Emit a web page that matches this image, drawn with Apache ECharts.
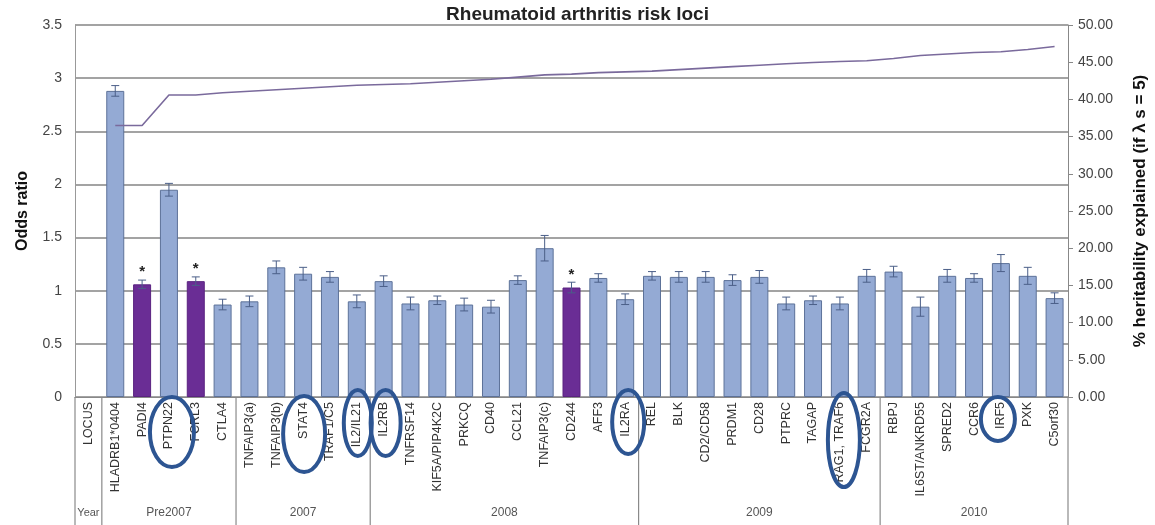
<!DOCTYPE html>
<html>
<head>
<meta charset="utf-8">
<script src="https://cdn.jsdelivr.net/npm/echarts@6/dist/echarts.min.js"></script>
<style>
  html, body { margin: 0; padding: 0; background: #fff; }
  #chart { width: 1155px; height: 525px; }
</style>
</head>
<body>
<div id="chart"></div>
<script>
// Risk loci in order of discovery
const loci = ['LOCUS', 'HLADRB1*0404', 'PADI4', 'PTPN22', 'FCRL3', 'CTLA4',
  'TNFAIP3(a)', 'TNFAIP3(b)', 'STAT4', 'TRAF1/C5', 'IL2/IL21',
  'IL2RB', 'TNFRSF14', 'KIF5A/PIP4K2C', 'PRKCQ', 'CD40', 'CCL21', 'TNFAIP3(c)', 'CD244', 'AFF3', 'IL2RA',
  'REL', 'BLK', 'CD2/CD58', 'PRDM1', 'CD28', 'PTPRC', 'TAGAP', 'RAG1, TRAF6', 'FCGR2A',
  'RBPJ', 'IL6ST/ANKRD55', 'SPRED2', 'CCR6', 'IRF5', 'PXK', 'C5orf30'];

// Year each locus was reported (first column is the row header)
const locusYear = ['Year',
  'Pre2007', 'Pre2007', 'Pre2007', 'Pre2007', 'Pre2007',
  '2007', '2007', '2007', '2007', '2007',
  '2008', '2008', '2008', '2008', '2008', '2008', '2008', '2008', '2008', '2008',
  '2009', '2009', '2009', '2009', '2009', '2009', '2009', '2009', '2009',
  '2010', '2010', '2010', '2010', '2010', '2010', '2010'];

// Odds ratio per locus and half-width of its error bar
const oddsRatio = [null, 2.88, 1.06, 1.95, 1.09, 0.87, 0.90, 1.22, 1.16, 1.13, 0.90,
  1.09, 0.88, 0.91, 0.87, 0.85, 1.10, 1.40, 1.03, 1.12, 0.92,
  1.14, 1.13, 1.13, 1.10, 1.13, 0.88, 0.91, 0.88, 1.14,
  1.18, 0.85, 1.14, 1.12, 1.26, 1.14, 0.93];
const oddsErr = [null, 0.05, 0.04, 0.06, 0.04, 0.05, 0.05, 0.06, 0.06, 0.05, 0.06,
  0.05, 0.06, 0.04, 0.06, 0.06, 0.04, 0.12, 0.05, 0.04, 0.05,
  0.04, 0.05, 0.05, 0.05, 0.06, 0.06, 0.04, 0.06, 0.06,
  0.05, 0.09, 0.06, 0.04, 0.08, 0.08, 0.05];

// Cumulative % heritability explained
const heritability = [null, 36.5, 36.5, 40.6, 40.6, 40.9, 41.1, 41.3, 41.5, 41.7, 41.9,
  42.0, 42.1, 42.3, 42.5, 42.7, 43.0, 43.3, 43.4, 43.6, 43.7,
  43.8, 44.0, 44.2, 44.4, 44.6, 44.8, 44.95, 45.1, 45.2,
  45.5, 45.9, 46.1, 46.3, 46.4, 46.7, 47.1];

// Loci flagged with an asterisk
const starredLoci = ['PADI4', 'FCRL3', 'CD244'];
// Loci highlighted with an oval around their label
const circledLoci = ['PTPN22', 'STAT4', 'IL2/IL21', 'IL2RB', 'IL2RA', 'RAG1, TRAF6', 'IRF5'];

const FONT = '"Liberation Sans", Arial, sans-serif';
const BAR_BLUE = '#94aad4';
const BAR_PURPLE = '#6a2d95';
const GRID_GRAY = '#848484';

const chart = echarts.init(document.getElementById('chart'), null, { renderer: 'canvas' });

const barData = oddsRatio.map((v, i) => {
  const starred = starredLoci.includes(loci[i]);
  return {
    value: v,
    itemStyle: { color: starred ? BAR_PURPLE : BAR_BLUE, borderColor: starred ? '#5a2380' : '#5d7299' },
    label: starred ? { show: true } : { show: false }
  };
});

const errData = oddsRatio.map((v, i) => [i, v, oddsErr[i]]).filter(d => d[1] != null);

chart.setOption({
  animation: false,
  textStyle: { fontFamily: FONT },
  title: {
    text: 'Rheumatoid arthritis risk loci',
    left: 'center', top: 0,
    textStyle: { fontFamily: FONT, fontSize: 19, fontWeight: 'bold', color: '#222' }
  },
  grid: { left: 75, right: 87, top: 25, bottom: 128, containLabel: false, outerBoundsMode: 'none' },
  xAxis: {
    type: 'category',
    data: loci,
    axisLine: { lineStyle: { color: '#888', width: 1 } },
    axisTick: { show: false },
    axisLabel: {
      interval: 0, rotate: 90, margin: 5,
      fontFamily: FONT, fontSize: 12.5, color: '#333'
    }
  },
  yAxis: [
    {
      type: 'value', min: 0, max: 3.5, interval: 0.5,
      name: 'Odds ratio', nameLocation: 'middle', nameRotate: 90, nameGap: 44,
      nameTextStyle: { fontFamily: FONT, fontSize: 16, fontWeight: 'bold', color: '#111' },
      axisLine: { show: true, lineStyle: { color: '#999' } },
      axisTick: { show: false },
      axisLabel: { margin: 13, fontFamily: FONT, fontSize: 14, color: '#444' },
      splitLine: { lineStyle: { color: GRID_GRAY, width: 1.6 } }
    },
    {
      type: 'value', min: 0, max: 50, interval: 5, position: 'right',
      name: '% heritability explained (if λ s = 5)', nameLocation: 'middle', nameRotate: 90, nameGap: 64,
      nameTextStyle: { fontFamily: FONT, fontSize: 17, fontWeight: 'bold', color: '#111' },
      axisLine: { show: true, lineStyle: { color: '#888' } },
      axisTick: { show: true, length: 5, lineStyle: { color: '#888' } },
      axisLabel: { margin: 10, fontFamily: FONT, fontSize: 14, color: '#444', formatter: v => v.toFixed(2) },
      splitLine: { show: false }
    }
  ],
  series: [
    {
      type: 'bar',
      data: barData,
      barWidth: 18,
      itemStyle: { borderWidth: 1 },
      label: {
        position: 'top', distance: 5, formatter: '*',
        fontFamily: FONT, fontSize: 15, fontWeight: 'bold', color: '#222'
      },
      z: 2
    },
    {
      type: 'custom',
      data: errData,
      z: 3,
      renderItem: function (params, api) {
        const x = api.value(0), v = api.value(1), e = api.value(2);
        const hi = api.coord([x, v + e]);
        const lo = api.coord([x, v - e]);
        const cap = 4;
        const style = { stroke: '#4b5f88', lineWidth: 1 };
        return {
          type: 'group',
          children: [
            { type: 'line', shape: { x1: hi[0], y1: hi[1], x2: lo[0], y2: lo[1] }, style },
            { type: 'line', shape: { x1: hi[0] - cap, y1: hi[1], x2: hi[0] + cap, y2: hi[1] }, style },
            { type: 'line', shape: { x1: lo[0] - cap, y1: lo[1], x2: lo[0] + cap, y2: lo[1] }, style }
          ]
        };
      }
    },
    {
      type: 'line',
      yAxisIndex: 1,
      data: heritability,
      showSymbol: false,
      symbol: 'none',
      lineStyle: { color: '#7a6a9c', width: 1.6 },
      z: 4
    }
  ]
});

// Year row: separators, group names and highlighted labels
const band = chart.convertToPixel({ xAxisIndex: 0 }, loci[1]) - chart.convertToPixel({ xAxisIndex: 0 }, loci[0]);
const xOf = name => chart.convertToPixel({ xAxisIndex: 0 }, name);
const axisY = chart.convertToPixel({ yAxisIndex: 0 }, 0);
const bottomY = 525;
const graphics = [];
const sepStyle = { stroke: '#8a8a8a', lineWidth: 1.2 };

const groups = [];
locusYear.forEach((y, i) => {
  const last = groups[groups.length - 1];
  if (last && last.year === y) last.to = i; else groups.push({ year: y, from: i, to: i });
});
groups.forEach((g, k) => {
  const left = xOf(loci[g.from]) - band / 2;
  const right = xOf(loci[g.to]) + band / 2;
  graphics.push({ type: 'line', shape: { x1: left, y1: axisY, x2: left, y2: bottomY }, style: sepStyle, silent: true });
  if (k === groups.length - 1) {
    graphics.push({ type: 'line', shape: { x1: right, y1: axisY, x2: right, y2: bottomY }, style: sepStyle, silent: true });
  }
  graphics.push({
    type: 'text',
    x: (left + right) / 2, y: 513,
    style: {
      text: g.year, textAlign: 'center', textVerticalAlign: 'middle',
      font: (k === 0 ? '11px ' : '12px ') + FONT, fill: '#555'
    },
    silent: true
  });
});

// Oval outline size for each highlighted label
const ovalSize = {
  'PTPN22': [22, 35, 432, 3], 'STAT4': [21, 38, 434, 1], 'IL2/IL21': [14, 33, 423, 1],
  'IL2RB': [15, 33, 423, 2], 'IL2RA': [16, 32, 422, 3], 'RAG1, TRAF6': [16, 47, 440, 4], 'IRF5': [17, 22, 419, -3]
};
circledLoci.forEach(name => {
  const s = ovalSize[name];
  graphics.push({
    type: 'ellipse',
    shape: { cx: xOf(name) + s[3], cy: s[2], rx: s[0], ry: s[1] },
    style: { fill: 'none', stroke: '#2d5592', lineWidth: 4 },
    z: 100, silent: true
  });
});

chart.setOption({ graphic: graphics });
</script>
</body>
</html>
